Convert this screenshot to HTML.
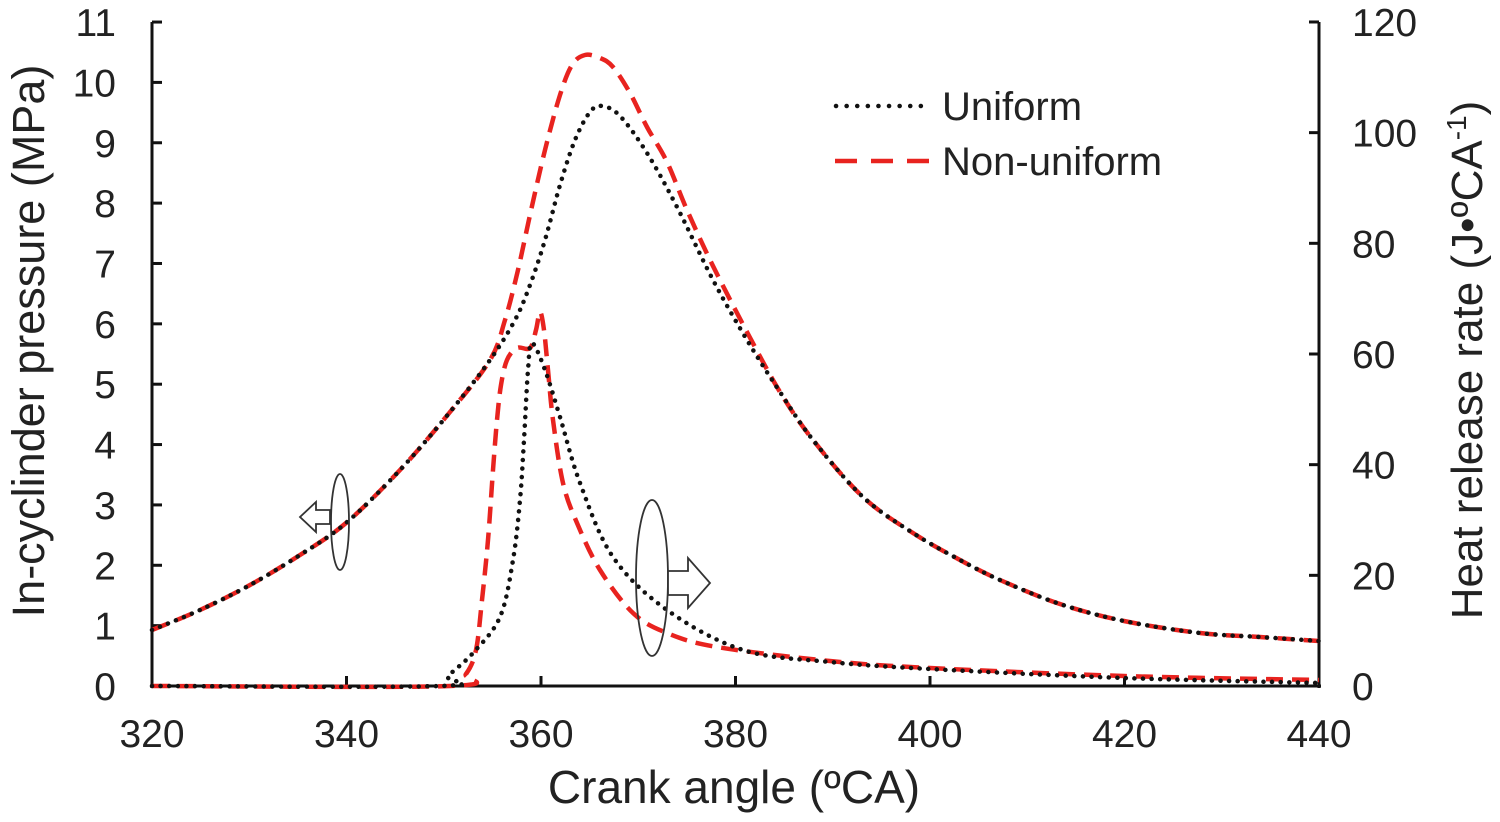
<!DOCTYPE html>
<html><head><meta charset="utf-8"><style>
html,body{margin:0;padding:0;background:#fff;}
svg{display:block;}
text{font-family:"Liberation Sans",Arial,sans-serif;fill:#222;}
</style></head><body>
<svg id="s" width="1500" height="822" viewBox="0 0 1500 822" xmlns="http://www.w3.org/2000/svg">
<g stroke="#111" stroke-width="3" fill="none">
<line x1="152" y1="22" x2="152" y2="688"/>
<line x1="1319" y1="22" x2="1319" y2="688"/>
<line x1="150" y1="686" x2="1321" y2="686"/>
</g>
<g id="ticks" stroke="#111" stroke-width="3"></g>
<g font-size="39" text-anchor="end" id="ylab"></g>
<g font-size="39" text-anchor="start" id="y2lab"></g>
<g font-size="39" text-anchor="middle" id="xlab"></g>
<text x="734" y="803" font-size="46" text-anchor="middle">Crank angle (ºCA)</text>
<text transform="translate(44,341) rotate(-90)" font-size="45" text-anchor="middle">In-cyclinder pressure (MPa)</text>
<text transform="translate(1482,360) rotate(-90)" font-size="44" text-anchor="middle">Heat release rate (J•ºCA<tspan dy="-16" font-size="28">-1</tspan><tspan dy="16">)</tspan></text>
<g id="curves" fill="none"></g>
<g fill="none" stroke="#333" stroke-width="1.8">
<ellipse cx="340" cy="522" rx="9" ry="48"/>
<polygon points="330,510 316,510 316,502 300,517 316,532 316,524 330,524" fill="#fff"/>
<ellipse cx="652" cy="578" rx="16" ry="78"/>
<polygon points="668,571 688,571 688,558 710,583 688,608 688,595 668,595" fill="#fff"/>
</g>
<line x1="836" y1="106" x2="925" y2="106" stroke="#111" stroke-width="4.5" stroke-dasharray="0.1 10.5" stroke-linecap="round"/>
<text x="942" y="120" font-size="40">Uniform</text>
<line x1="835" y1="161" x2="930" y2="161" stroke="#e8231f" stroke-width="4.5" stroke-dasharray="22 14"/>
<text x="942" y="175" font-size="40">Non-uniform</text>
</svg>
<script>
var NS="http://www.w3.org/2000/svg";
function el(p,t,a,txt){var e=document.createElementNS(NS,t);for(var k in a)e.setAttribute(k,a[k]);if(txt!==undefined)e.textContent=txt;document.getElementById(p).appendChild(e);}
for(var i=0;i<=11;i++){var y=686-i*60.36;if(i>0)el("ticks","line",{x1:152,y1:y,x2:162,y2:y});el("ylab","text",{x:116,y:y+14},String(i));}
for(var i=0;i<=6;i++){var y=686-i*110.67;if(i>0)el("ticks","line",{x1:1309,y1:y,x2:1319,y2:y});el("y2lab","text",{x:1352,y:y+14},String(i*20));}
for(var i=0;i<=6;i++){var x=152+i*194.5;if(i>0&&i<6)el("ticks","line",{x1:x,y1:686,x2:x,y2:676});el("xlab","text",{x:x,y:747},String(320+i*20));}
function path(p){var d="M"+p[0][0]+","+p[0][1];for(var i=0;i<p.length-1;i++){var p0=p[i-1]||p[i],p1=p[i],p2=p[i+1],p3=p[i+2]||p2;
d+=" C"+(p1[0]+(p2[0]-p0[0])/6)+","+(p1[1]+(p2[1]-p0[1])/6)+" "+(p2[0]-(p3[0]-p1[0])/6)+","+(p2[1]-(p3[1]-p1[1])/6)+" "+p2[0]+","+p2[1];}return d;}
var common=[[152,630],[200,610],[250,585],[300,555],[346,523],[400,470],[450,412],[490,360]];
var tail=[[780,392],[813,440],[863,497],[913,533],[960,560],[1000,580],[1060,604],[1124,621],[1200,633],[1260,637],[1319,641]];
var pu=common.concat([[515,320],[530,285],[545,240],[560,185],[575,140],[590,112],[602,106],[620,116],[647,153],[677,207],[713,280],[747,340]]).concat(tail);
var pn=common.concat([[505,320],[518,270],[530,215],[545,150],[560,95],[572,65],[585,55],[600,58],[613,67],[630,93],[647,127],[667,162],[687,210],[713,266],[747,332]]).concat(tail);
var hu=[[152,686],[440,686],[448,676],[473,653],[500,617],[513,560],[520,500],[524,440],[528,370],[532,343],[545,370],[560,417],[580,483],[613,557],[667,610],[743,650],[830,662],[930,669],[1124,678],[1319,683]];
var hn=[[152,686],[450,686],[466,674],[476,650],[482,600],[488,540],[493,470],[497,420],[501,385],[507,360],[517,348],[530,348],[536,330],[540,312],[544,330],[548,370],[553,420],[563,483],[577,523],[600,570],[633,613],[667,633],[717,647],[830,661],[930,668],[1124,676],[1319,680]];
function draw(p,red){if(red)el("curves","path",{d:path(p),stroke:"#e8231f","stroke-width":4.5,"stroke-dasharray":"17 9"});
else el("curves","path",{d:path(p),stroke:"#111","stroke-width":4.5,"stroke-dasharray":"0.1 8.5","stroke-linecap":"round"});}
draw(pn,true);draw(hn,true);draw(pu,false);draw(hu,false);
</script>
</body></html>
